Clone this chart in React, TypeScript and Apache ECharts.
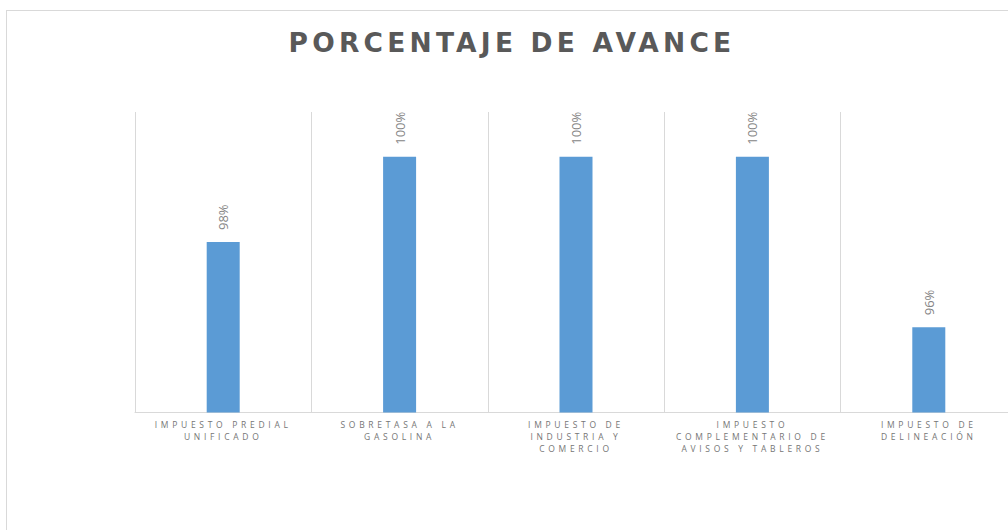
import React, { useEffect, useRef } from "react";
import * as echarts from "echarts";

const TITLE = "PORCENTAJE DE AVANCE";
const categories = [
  "IMPUESTO PREDIAL\nUNIFICADO",
  "SOBRETASA A LA\nGASOLINA",
  "IMPUESTO DE\nINDUSTRIA Y\nCOMERCIO",
  "IMPUESTO\nCOMPLEMENTARIO DE\nAVISOS Y TABLEROS",
  "IMPUESTO DE\nDELINEACIÓN",
];
const avance = [98, 100, 100, 100, 96];
const axisMin = 94;
const axisMax = 101.05;

export default function App() {
  const ref = useRef<HTMLDivElement>(null);
  useEffect(() => {
    const el = ref.current;
    if (!el) return;
    const chart = echarts.init(el, undefined, { renderer: "svg" });
    chart.setOption({
      animation: false,
      backgroundColor: "#ffffff",
      title: {
        text: TITLE,
        left: "center",
        top: 13,
        textStyle: {
          fontFamily: "DejaVu Sans",
          fontWeight: "bold",
          fontSize: 26.5,
          color: "#595959",
        },
      },
      grid: { left: 128, top: 101, width: 885, height: 300.5 },
      xAxis: {
        type: "category",
        data: categories,
        axisLine: { show: true, lineStyle: { color: "#d9d9d9", width: 1 } },
        axisTick: { show: false },
        splitLine: { show: true, interval: 0, lineStyle: { color: "#d9d9d9", width: 1 } },
        axisLabel: {
          interval: 0,
          margin: 6,
          fontFamily: "Open Sans",
          fontSize: 8.5,
          lineHeight: 12,
          color: "#767676",
        },
      },
      yAxis: {
        type: "value",
        min: axisMin,
        max: axisMax,
        show: false,
        splitLine: { show: false },
      },
      series: [
        {
          type: "bar",
          data: avance,
          barWidth: 33,
          itemStyle: { color: "#5b9bd5" },
          label: {
            show: true,
            position: "top",
            rotate: 90,
            distance: 12,
            align: "left",
            verticalAlign: "middle",
            formatter: "{c}%",
            fontFamily: "Open Sans",
            fontSize: 13,
            color: "#858585",
          },
        },
      ],
    });
    const axisLines = categories.flatMap((c) => c.split("\n"));
    const applySpacing = () => {
      el.querySelectorAll("text").forEach((t) => {
        const s = (t.textContent || "").trim();
        if (s === TITLE) (t as SVGTextElement).style.letterSpacing = "4.2px";
        else if (axisLines.includes(s)) (t as SVGTextElement).style.letterSpacing = "3.7px";
      });
    };
    applySpacing();
    chart.on("finished", applySpacing);
    return () => chart.dispose();
  }, []);
  return (
    <div style={{ position: "fixed", left: 0, top: 0, width: 1008, height: 530, overflow: "hidden", background: "#fff" }}>
      <div
        style={{
          position: "absolute",
          left: 6,
          top: 10,
          width: 1010,
          height: 560,
          border: "1px solid #d9d9d9",
        }}
      >
        <div ref={ref} style={{ width: 1010, height: 560 }} />
      </div>
    </div>
  );
}
